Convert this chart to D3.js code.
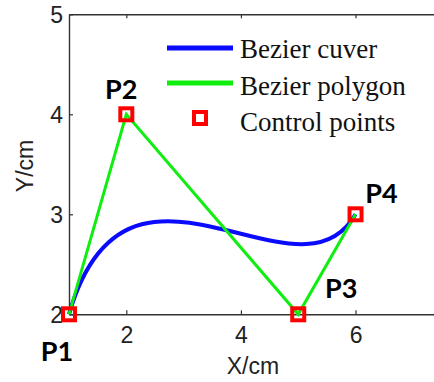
<!DOCTYPE html>
<html>
<head>
<meta charset="utf-8">
<script src="https://cdn.jsdelivr.net/npm/d3@7"></script>
<style>
    body { margin: 0; background: #fff; }
    svg { display: block; }
</style>
</head>
<body>
<div id="bezierChart"></div>
<script>

// control points of the cubic bezier (cm)
const point_names = ["P1", "P2", "P3", "P4"];
const point_x = [1, 2, 5, 6];
const point_y = [2, 4, 2, 3];

const x_ticks = [2, 4, 6];
const y_ticks = [2, 3, 4, 5];

const legend_labels = ["Bezier cuver", "Bezier polygon", "Control points"];

const color_curve = '#0a0aff';
const color_polygon = '#10ee10';
const color_points = '#ff0000';
const color_axis = '#333';

const points = point_names.map((name, i) => ({ name: name, x: point_x[i], y: point_y[i] }));

const width = 434;
const height = 382;

const svg = d3.select("#bezierChart")
    .append("svg")
    .attr("width", width)
    .attr("height", height);

// plot area runs off the right side of the picture
const x = d3.scaleLinear()
    .domain([1, 7.5])
    .range([69, 441.5]);

const y = d3.scaleLinear()
    .domain([2, 5])
    .range([314.3, 14.3]);

const tickFont = "'Liberation Sans', Arial, sans-serif";
const fmt = d3.format("d");

// bottom axis, ticks pointing inward
const xAxis = svg.append("g")
    .attr("transform", `translate(0, ${y(2)})`)
    .call(d3.axisBottom(x).tickValues(x_ticks).tickFormat(fmt).tickSize(-4).tickSizeOuter(0).tickPadding(12));

// top frame line with inward ticks, no labels
const topAxis = svg.append("g")
    .attr("transform", `translate(0, ${y(5)})`)
    .call(d3.axisTop(x).tickValues(x_ticks).tickSize(-4).tickSizeOuter(0).tickFormat(""));

// left axis
const yAxis = svg.append("g")
    .attr("transform", `translate(${x(1)}, 0)`)
    .call(d3.axisLeft(y).tickValues(y_ticks).tickFormat(fmt).tickSize(-4).tickSizeOuter(0).tickPadding(6));

[xAxis, topAxis, yAxis].forEach(g => {
    g.select(".domain").attr("stroke", color_axis).attr("stroke-width", 1.4);
    g.selectAll(".tick line").attr("stroke", color_axis).attr("stroke-width", 1.2);
    g.selectAll(".tick text")
        .attr("fill", "#222")
        .style("font-family", tickFont)
        .style("font-size", "23px");
});
yAxis.selectAll(".tick text").attr("dy", "0.36em");

// axis titles
svg.append("text")
    .attr("x", x(4) + 12)
    .attr("y", 374)
    .attr("text-anchor", "middle")
    .attr("fill", "#222")
    .style("font-family", tickFont)
    .style("font-size", "23px")
    .text("X/cm");

svg.append("text")
    .attr("transform", `translate(33, 166) rotate(-90)`)
    .attr("text-anchor", "middle")
    .attr("fill", "#222")
    .style("font-family", tickFont)
    .style("font-size", "23px")
    .text("Y/cm");

// bezier curve built from the control points
const curvePath = d3.path();
curvePath.moveTo(x(points[0].x), y(points[0].y));
curvePath.bezierCurveTo(
    x(points[1].x), y(points[1].y),
    x(points[2].x), y(points[2].y),
    x(points[3].x), y(points[3].y)
);

svg.append("path")
    .attr("d", curvePath.toString())
    .attr("fill", "none")
    .attr("stroke", color_curve)
    .attr("stroke-width", 4);

// control polygon
const line = d3.line()
    .x(d => x(d.x))
    .y(d => y(d.y));

svg.append("path")
    .datum(points)
    .attr("d", line)
    .attr("fill", "none")
    .attr("stroke", color_polygon)
    .attr("stroke-width", 3);

// control point markers
svg.selectAll(".ctrl")
    .data(points)
    .enter()
    .append("rect")
    .attr("class", "ctrl")
    .attr("x", d => x(d.x) - 6)
    .attr("y", d => y(d.y) - 6)
    .attr("width", 12)
    .attr("height", 12)
    .attr("fill", "none")
    .attr("stroke", color_points)
    .attr("stroke-width", 4);

// point labels (offsets in px from each point)
const label_dx = [-12, -5, 43, 26];
const label_dy = [47, -15, -16, -11];

svg.selectAll(".ctrl-label")
    .data(points)
    .enter()
    .append("text")
    .attr("class", "ctrl-label")
    .attr("x", (d, i) => x(d.x) + label_dx[i])
    .attr("y", (d, i) => y(d.y) + label_dy[i])
    .attr("text-anchor", "middle")
    .style("font-family", "Lato, 'Open Sans', sans-serif")
    .style("font-weight", "bold")
    .style("font-size", "27px")
    .attr("fill", "#000")
    .text(d => d.name);

// legend, no box
const legend = svg.append("g")
    .attr("transform", "translate(167, 48)");

const rowStep = 35;

legend.append("line")
    .attr("x1", 0).attr("x2", 66)
    .attr("y1", 0).attr("y2", 0)
    .attr("stroke", color_curve)
    .attr("stroke-width", 5);

legend.append("line")
    .attr("x1", 0).attr("x2", 66)
    .attr("y1", rowStep).attr("y2", rowStep)
    .attr("stroke", color_polygon)
    .attr("stroke-width", 5);

legend.append("rect")
    .attr("x", 33 - 6)
    .attr("y", rowStep * 2 - 6)
    .attr("width", 12)
    .attr("height", 12)
    .attr("fill", "none")
    .attr("stroke", color_points)
    .attr("stroke-width", 4);

legend.selectAll(".legend-text")
    .data(legend_labels)
    .enter()
    .append("text")
    .attr("class", "legend-text")
    .attr("x", 73)
    .attr("y", (d, i) => i * rowStep + 10 + i * 1.5)
    .style("font-family", "'Liberation Serif', 'Times New Roman', serif")
    .style("font-size", "27px")
    .attr("fill", "#111")
    .text(d => d);

</script>
</body>
</html>
